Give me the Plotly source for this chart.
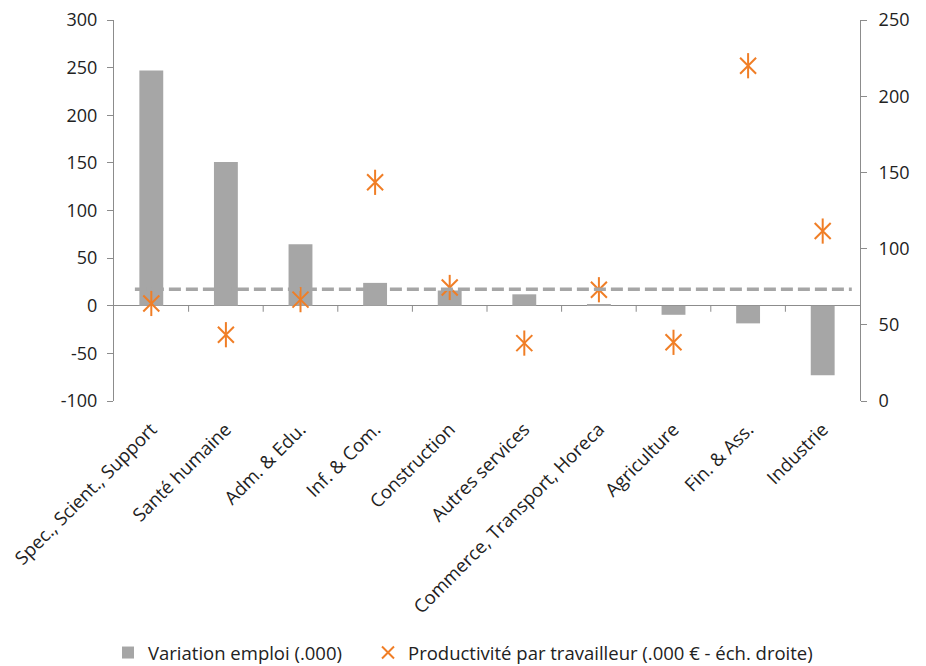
import plotly.graph_objects as go

# Sectors, ordered by employment change
categories = [
    "Spec., Scient., Support",
    "Santé humaine",
    "Adm. & Edu.",
    "Inf. & Com.",
    "Construction",
    "Autres services",
    "Commerce, Transport, Horeca",
    "Agriculture",
    "Fin. & Ass.",
    "Industrie",
]
# Employment change (thousands)
emploi = [247, 151, 64.5, 24, 16, 12, 1, -9.5, -18.5, -73]
# Productivity per worker (thousand €, right axis)
productivite = [64, 43.5, 66.5, 143.5, 74.5, 38, 73, 38.5, 220, 111.5]
# Average productivity (right axis)
productivite_moyenne = 73.3

left_ticks = [-100, -50, 0, 50, 100, 150, 200, 250, 300]
right_ticks = [0, 50, 100, 150, 200, 250]

GRAY = "#A6A6A6"
ORANGE = "#F07E26"
AXIS = "#8C8C8C"
TEXT = "#222222"
FONT = "Open Sans"

fig = go.Figure()

fig.add_trace(go.Bar(
    x=categories, y=emploi, name="Variation emploi (.000)",
    marker=dict(color=GRAY, line=dict(width=0)),
    yaxis="y", legend="legend",
))

# Productivity markers: a thin X plus a vertical stroke
fig.add_trace(go.Scatter(
    x=categories, y=productivite, mode="markers",
    name="Productivité par travailleur (.000 € - éch. droite)",
    marker=dict(symbol="x-thin-open", size=16, color=ORANGE,
                line=dict(color=ORANGE, width=2)),
    yaxis="y2", legend="legend2",
))
fig.add_trace(go.Scatter(
    x=categories, y=productivite, mode="markers", showlegend=False,
    marker=dict(symbol="line-ns-open", size=18, color=ORANGE,
                line=dict(color=ORANGE, width=2)),
    yaxis="y2", hoverinfo="skip",
))

shapes = []
# Average productivity dashed line
shapes.append(dict(
    type="line", xref="x", yref="y2",
    x0=-0.22, x1=len(categories) - 0.61,
    y0=productivite_moyenne, y1=productivite_moyenne,
    line=dict(color=GRAY, width=3.5, dash="12px,5px"),
))
# Category-boundary tick marks hanging from the zero line
for i in range(len(categories) - 1):
    shapes.append(dict(
        type="line", xref="x", yref="y",
        x0=i + 0.5, x1=i + 0.5,
        ysizemode="pixel", yanchor=0, y0=0, y1=-6,
        line=dict(color=AXIS, width=1),
    ))

legend_style = dict(
    orientation="h", xref="container", yref="container",
    yanchor="middle", y=(666 - 653) / 666, xanchor="left",
    font=dict(size=18.5, color=TEXT), itemsizing="constant",
    bgcolor="rgba(0,0,0,0)",
)

fig.update_layout(
    width=926, height=666,
    margin=dict(l=114, r=66, t=20, b=265, autoexpand=False),
    paper_bgcolor="white", plot_bgcolor="white",
    font=dict(family=FONT, size=17, color=TEXT),
    bargap=0.68,
    showlegend=True,
    legend=dict(legend_style, x=108 / 926),
    legend2=dict(legend_style, x=368 / 926),
    xaxis=dict(
        type="category", showline=False, showgrid=False, ticks="",
        tickangle=-45, tickfont=dict(size=18.5, color=TEXT),
        ticklabelstandoff=13,
        range=[-0.5, len(categories) - 0.5], automargin=False,
    ),
    yaxis=dict(
        range=[-100, 300], tickvals=left_ticks,
        ticktext=[str(v) for v in left_ticks], showgrid=False,
        showline=True, linecolor=AXIS, linewidth=1,
        ticks="outside", ticklen=6, tickcolor=AXIS, ticklabelstandoff=6,
        zeroline=True, zerolinecolor=AXIS, zerolinewidth=1,
        tickfont=dict(size=18, color=TEXT), automargin=False,
    ),
    yaxis2=dict(
        range=[0, 250], tickvals=right_ticks,
        ticktext=[str(v) for v in right_ticks], overlaying="y", side="right",
        showgrid=False, zeroline=False,
        showline=True, linecolor=AXIS, linewidth=1,
        ticks="outside", ticklen=6, tickcolor=AXIS, ticklabelstandoff=8,
        tickfont=dict(size=18, color=TEXT), automargin=False,
    ),
    shapes=shapes,
)

fig.write_html("out.html")
